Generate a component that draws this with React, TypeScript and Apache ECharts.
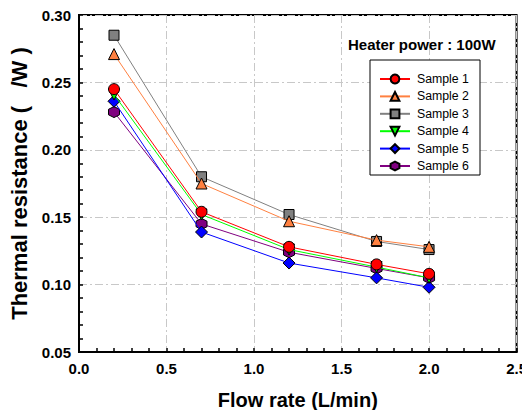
import React, { useEffect, useRef } from "react";
import * as echarts from "echarts";

const flowRates = [0.2, 0.7, 1.2, 1.7, 2.0];
const sample1 = [0.245, 0.154, 0.128, 0.115, 0.108];
const sample2 = [0.271, 0.175, 0.147, 0.133, 0.128];
const sample3 = [0.285, 0.18, 0.152, 0.132, 0.126];
const sample4 = [0.241, 0.152, 0.126, 0.113, 0.105];
const sample5 = [0.236, 0.139, 0.116, 0.105, 0.098];
const sample6 = [0.228, 0.145, 0.124, 0.112, 0.105];
const seriesNames = ["Sample 1", "Sample 2", "Sample 3", "Sample 4", "Sample 5", "Sample 6"];
const xTicks = [0, 0.5, 1.0, 1.5, 2.0, 2.5];
const yTicks = [0.05, 0.1, 0.15, 0.2, 0.25, 0.3];

const lineColors = ["#ff0000", "#ff8040", "#808080", "#00ff00", "#0000ff", "#800080"];
const fillColors = ["#ff0000", "#ff8040", "#808080", "#00ff00", "#0000ff", "#800080"];
const symbols = [
  "circle",
  "triangle",
  "rect",
  "path://M0,0 L10,0 L5,9 Z",
  "diamond",
  "path://M5,0 L9.33,2.5 L9.33,7.5 L5,10 L0.67,7.5 L0.67,2.5 Z",
];
const symbolSizes = [11, 11, 10, 11, 12, 11];

export default function App() {
  const ref = useRef<HTMLDivElement>(null);
  useEffect(() => {
    if (!ref.current) return;
    const chart = echarts.init(ref.current, undefined, { renderer: "svg" });
    const all = [sample1, sample2, sample3, sample4, sample5, sample6];
    const font = "Liberation Sans, Arial, sans-serif";
    chart.setOption({
      animation: false,
      grid: {
        left: 77,
        right: 9,
        top: 15,
        bottom: 66,
        show: true,
        borderColor: "#000",
        borderWidth: 2,
        backgroundColor: "transparent",
      },
      graphic: [
        {
          type: "rect",
          shape: { x: 370, y: 60, width: 110, height: 115 },
          style: { fill: "#fff", stroke: "#000", lineWidth: 1 },
          z: 90,
        },
        {
          type: "text",
          x: 348,
          y: 44,
          style: {
            text: "Heater power : 100W",
            font: "bold 15px " + font,
            fill: "#000",
            textVerticalAlign: "middle",
          },
          z: 95,
        },
      ],
      legend: {
        orient: "vertical",
        left: 374,
        top: 68,
        itemWidth: 30,
        itemHeight: 11,
        itemGap: 5.4,
        z: 100,
        textStyle: { fontFamily: font, fontSize: 12.3, color: "#000", padding: [0, 0, 0, 2] },
        data: seriesNames,
      },
      xAxis: {
        type: "value",
        min: 0,
        max: 2.5,
        interval: 0.5,
        name: "Flow rate (L/min)",
        nameLocation: "middle",
        nameGap: 38,
        nameTextStyle: { fontFamily: font, fontWeight: "bold", fontSize: 20, color: "#000" },
        axisLine: { show: true, lineStyle: { color: "#000", width: 2 } },
        axisTick: { show: true, inside: true, length: 4, lineStyle: { color: "#000", width: 1.5 } },
        minorTick: { show: true, splitNumber: 5, length: 4, lineStyle: { color: "#000", width: 1.5 } },
        axisLabel: {
          fontFamily: font,
          fontWeight: "bold",
          fontSize: 15,
          color: "#000",
          margin: 9,
          formatter: (v: number) => (xTicks.includes(v) ? v.toFixed(1) : ""),
        },
        splitLine: { show: true, lineStyle: { color: "#c8c8c8", width: 1, type: [8, 3, 2, 3] } },
      },
      yAxis: {
        type: "value",
        min: 0.05,
        max: 0.3,
        interval: 0.05,
        name: "Thermal resistance (   /W )",
        nameLocation: "middle",
        nameGap: 49,
        nameTextStyle: { fontFamily: font, fontWeight: "bold", fontSize: 22, color: "#000" },
        axisLine: { show: true, lineStyle: { color: "#000", width: 2 } },
        axisTick: { show: true, inside: true, length: 4, lineStyle: { color: "#000", width: 1.5 } },
        minorTick: { show: true, splitNumber: 5, length: 4, lineStyle: { color: "#000", width: 1.5 } },
        axisLabel: {
          fontFamily: font,
          fontWeight: "bold",
          fontSize: 15,
          color: "#000",
          margin: 8,
          formatter: (v: number) => (yTicks.some((t) => Math.abs(t - v) < 1e-6) ? v.toFixed(2) : ""),
        },
        splitLine: { show: true, lineStyle: { color: "#c8c8c8", width: 1, type: [8, 3, 2, 3] } },
      },
      series: seriesNames.map((name, i) => ({
        name,
        type: "line",
        data: flowRates.map((x, j) => [x, all[i][j]]),
        symbol: symbols[i],
        symbolSize: symbolSizes[i],
        showAllSymbol: true,
        lineStyle: { color: lineColors[i], width: 1 },
        itemStyle: { color: fillColors[i], borderColor: "#000", borderWidth: 1 },
        z: 10 + (6 - i),
      })),
    });
    return () => chart.dispose();
  }, []);
  return <div ref={ref} style={{ width: 530, height: 418, margin: -8 }} />;
}
